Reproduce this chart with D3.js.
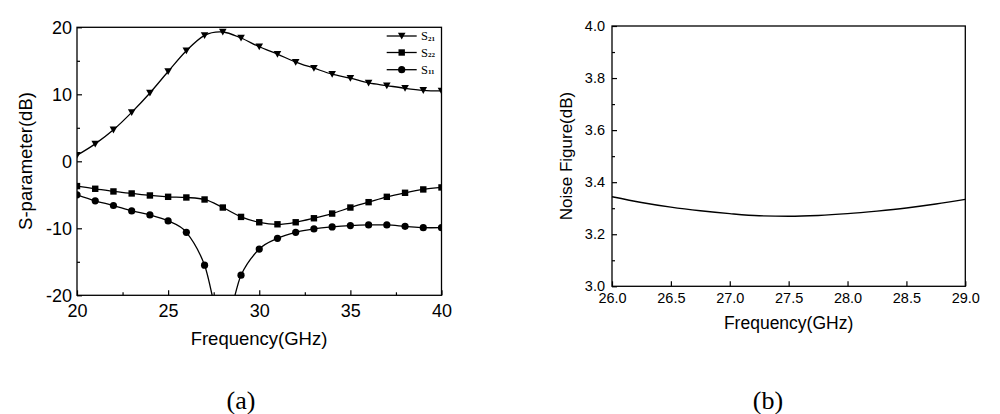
<!DOCTYPE html>
<html>
<head>
<meta charset="utf-8">
<script src="https://cdn.jsdelivr.net/npm/d3@7"></script>
<style>
  html, body { margin: 0; padding: 0; background: #fff; }
  svg { display: block; }
  text { fill: #000; }
</style>
</head>
<body>
<svg id="chart" width="1000" height="414"></svg>
<script>
// ---------------- DATA ----------------
const freqS = [20,21,22,23,24,25,26,27,28,29,30,31,32,33,34,35,36,37,38,39,40];
const s21 = [0.9,2.6,4.7,7.3,10.2,13.4,16.5,18.8,19.3,18.4,17.1,16.0,14.8,13.9,13.0,12.4,11.7,11.3,10.9,10.6,10.5];
const s22 = [-3.7,-4.1,-4.5,-4.8,-5.1,-5.3,-5.4,-5.7,-6.9,-8.3,-9.1,-9.4,-9.1,-8.5,-7.8,-6.9,-6.1,-5.3,-4.7,-4.2,-3.9];
const s11 = [-5.0,-5.9,-6.6,-7.4,-8.0,-8.9,-10.6,-15.5,-25.0,-17.0,-13.1,-11.5,-10.6,-10.1,-9.8,-9.6,-9.5,-9.5,-9.7,-9.9,-9.9];
const sXTicks = [20,25,30,35,40];
const sXMinor = [22.5,27.5,32.5,37.5];
const sYTicks = [-20,-10,0,10,20];
const sYMinor = [-15,-5,5,15];
const legendLabels = [["S","21"],["S","22"],["S","11"]];

const freqNF = [26.0,26.25,26.5,26.75,27.0,27.25,27.5,27.75,28.0,28.25,28.5,28.75,29.0];
const nf = [3.344,3.322,3.304,3.290,3.279,3.271,3.269,3.272,3.279,3.289,3.301,3.316,3.334];
const nfXTicks = [26.0,26.5,27.0,27.5,28.0,28.5,29.0];
const nfYTicks = [3.0,3.2,3.4,3.6,3.8,4.0];
const nfYMinor = [3.1,3.3,3.5,3.7,3.9];

const captions = ["(a)", "(b)"];

// ---------------- DRAW ----------------
const svg = d3.select("#chart");
const FONT = "Arial, 'Liberation Sans', Helvetica, sans-serif";
const fmtInt = d => String(d);
const fmt1 = d => d.toFixed(1);

// ---- Left chart ----
const xL = d3.scaleLinear().domain([20,40]).range([77,441.5]);
const yL = d3.scaleLinear().domain([-20,20]).range([295.3,27.3]);

const defs = svg.append("defs");
defs.append("clipPath").attr("id","clipL").append("rect")
  .attr("x",77).attr("y",27.3).attr("width",441.5-77).attr("height",295.3-27.3);

function styleAxis(g, fs) {
  g.select(".domain").remove();
  g.selectAll(".tick line").attr("stroke","#000").attr("stroke-width",1.2);
  g.selectAll(".tick text").attr("font-family",FONT).attr("font-size",fs).attr("fill","#000");
}

const gL = svg.append("g");
gL.append("g").attr("transform",`translate(0,${yL(-20)})`)
  .call(d3.axisBottom(xL).tickValues(sXTicks).tickFormat(fmtInt).tickSize(-5).tickPadding(9).tickSizeOuter(0))
  .call(g => styleAxis(g,18));
gL.append("g").attr("transform",`translate(0,${yL(-20)})`)
  .call(d3.axisBottom(xL).tickValues(sXMinor).tickFormat("").tickSize(-3).tickSizeOuter(0))
  .call(g => styleAxis(g,18));
gL.append("g").attr("transform",`translate(${xL(20)},0)`)
  .call(d3.axisLeft(yL).tickValues(sYTicks).tickFormat(fmtInt).tickSize(-5).tickPadding(5).tickSizeOuter(0))
  .call(g => styleAxis(g,18));
gL.append("g").attr("transform",`translate(${xL(20)},0)`)
  .call(d3.axisLeft(yL).tickValues(sYMinor).tickFormat("").tickSize(-3).tickSizeOuter(0))
  .call(g => styleAxis(g,18));
gL.append("rect").attr("x",xL(20)).attr("y",yL(20))
  .attr("width",xL(40)-xL(20)).attr("height",yL(-20)-yL(20))
  .attr("fill","none").attr("stroke","#000").attr("stroke-width",1.3);

const lineGen = (xs, ys) => d3.line().x(d=>xs(d[0])).y(d=>ys(d[1])).curve(d3.curveCardinal.tension(0));

const series = [
  {vals:s21, shape:"tri"},
  {vals:s22, shape:"sq"},
  {vals:s11, shape:"circ"}
];
const plotL = gL.append("g").attr("clip-path","url(#clipL)");

function marker(g, shape, x, y) {
  if (shape === "tri") {
    g.append("path").attr("d",`M${x-3.8},${y-3.2}L${x+3.8},${y-3.2}L${x},${y+3.6}Z`).attr("fill","#000");
  } else if (shape === "sq") {
    g.append("rect").attr("x",x-3.2).attr("y",y-3.2).attr("width",6.4).attr("height",6.4).attr("fill","#000");
  } else {
    g.append("circle").attr("cx",x).attr("cy",y).attr("r",3.6).attr("fill","#000");
  }
}

series.forEach(s => {
  const pts = freqS.map((f,i)=>[f,s.vals[i]]);
  plotL.append("path").datum(pts).attr("d", lineGen(xL,yL))
    .attr("fill","none").attr("stroke","#000").attr("stroke-width",1.3);
  pts.forEach(p => marker(plotL, s.shape, xL(p[0]), yL(p[1])));
});

// legend
const legY = [36,52.5,69.7];
series.forEach((s,i) => {
  const lg = svg.append("g");
  lg.append("line").attr("x1",386.7).attr("x2",416.7).attr("y1",legY[i]).attr("y2",legY[i])
    .attr("stroke","#000").attr("stroke-width",1.3);
  marker(lg, s.shape, 401.7, legY[i]);
  const t = lg.append("text").attr("x",421).attr("y",legY[i]+4)
    .attr("font-family","'Liberation Serif', 'Times New Roman', serif").attr("font-size",12.5);
  t.append("tspan").text(legendLabels[i][0]);
  t.append("tspan").attr("font-size",7).attr("dy",0.5).attr("font-weight","bold").text(legendLabels[i][1]);
});

svg.append("text").attr("x",259).attr("y",345).attr("text-anchor","middle")
  .attr("font-family",FONT).attr("font-size",18.5).text("Frequency(GHz)");
svg.append("text").attr("transform","translate(32,161) rotate(-90)").attr("text-anchor","middle")
  .attr("font-family",FONT).attr("font-size",18.5).text("S-parameter(dB)");

// ---- Right chart ----
const xR = d3.scaleLinear().domain([26,29]).range([612,965.3]);
const yR = d3.scaleLinear().domain([3.0,4.0]).range([286.3,26]);
const gR = svg.append("g");
gR.append("g").attr("transform",`translate(0,${yR(3.0)})`)
  .call(d3.axisBottom(xR).tickValues(nfXTicks).tickFormat(fmt1).tickSize(-5).tickPadding(6.5).tickSizeOuter(0))
  .call(g => styleAxis(g,14.5));
gR.append("g").attr("transform",`translate(${xR(26)},0)`)
  .call(d3.axisLeft(yR).tickValues(nfYTicks).tickFormat(fmt1).tickSize(-5).tickPadding(7).tickSizeOuter(0))
  .call(g => styleAxis(g,14.5));
gR.append("g").attr("transform",`translate(${xR(26)},0)`)
  .call(d3.axisLeft(yR).tickValues(nfYMinor).tickFormat("").tickSize(-3).tickSizeOuter(0))
  .call(g => styleAxis(g,14.5));
gR.append("rect").attr("x",xR(26)).attr("y",yR(4.0))
  .attr("width",xR(29)-xR(26)).attr("height",yR(3.0)-yR(4.0))
  .attr("fill","none").attr("stroke","#000").attr("stroke-width",1.3);
gR.append("path").datum(freqNF.map((f,i)=>[f,nf[i]]))
  .attr("d", d3.line().x(d=>xR(d[0])).y(d=>yR(d[1])).curve(d3.curveMonotoneX))
  .attr("fill","none").attr("stroke","#000").attr("stroke-width",1.4);

svg.append("text").attr("x",788.6).attr("y",329).attr("text-anchor","middle")
  .attr("font-family",FONT).attr("font-size",17.5).text("Frequency(GHz)");
svg.append("text").attr("transform","translate(572,156) rotate(-90)").attr("text-anchor","middle")
  .attr("font-family",FONT).attr("font-size",17).text("Noise Figure(dB)");

// captions
const capX = [241, 768];
captions.forEach((c,i) => {
  svg.append("text").attr("x",capX[i]).attr("y",409).attr("text-anchor","middle")
    .attr("font-family","'Liberation Serif', 'Times New Roman', serif").attr("font-size",26).text(c);
});
</script>
</body>
</html>
